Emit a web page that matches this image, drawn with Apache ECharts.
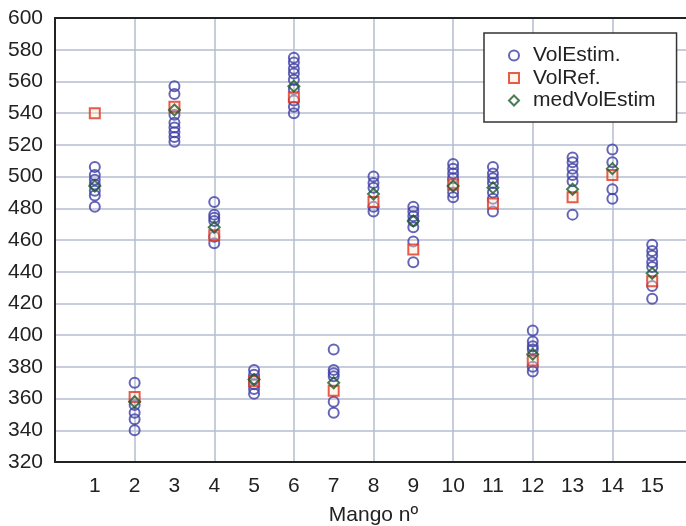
<!DOCTYPE html>
<html><head><meta charset="utf-8">
<script src="https://cdn.jsdelivr.net/npm/echarts@6/dist/echarts.min.js"></script>
<style>html,body{margin:0;padding:0;background:#fff}#c{width:686px;height:526px}</style>
</head><body><div id="c"></div>
<script>
var mangos = [1,2,3,4,5,6,7,8,9,10,11,12,13,14,15];
var yTicks = [320,340,360,380,400,420,440,460,480,500,520,540,560,580,600];
var volEstim = [
  [506, 501, 498, 495, 491, 488, 481],
  [370, 356, 351, 347, 340],
  [557, 552, 539, 534, 531, 528, 525, 522],
  [484, 476, 474, 472, 462, 458],
  [378, 375, 372, 369, 366, 363],
  [575, 572, 568, 565, 561, 555, 548, 544, 540],
  [391, 378, 376, 374, 358, 351],
  [500, 496, 493, 481, 478],
  [481, 478, 475, 472, 468, 459, 446],
  [508, 505, 502, 499, 490, 487],
  [506, 502, 499, 496, 490, 486, 478],
  [403, 396, 393, 391, 380, 377],
  [512, 509, 505, 501, 497, 476],
  [517, 509, 492, 486],
  [457, 453, 450, 446, 443, 431, 423]
];
var volRef = [540, 361, 544, 463, 371, 550, 365, 484, 454, 495, 483, 384, 487, 501, 434];
var medVolEstim = [494, 358, 542, 468, 372, 557, 370, 489, 472, 494, 493, 388, 492, 505, 439];

var estData = [];
volEstim.forEach(function(arr, i){ arr.forEach(function(v){ estData.push([mangos[i], v]); }); });
var refData = volRef.map(function(v, i){ return [mangos[i], v]; });
var medData = medVolEstim.map(function(v, i){ return [mangos[i], v]; });

var font = 'Liberation Sans, Arial, sans-serif';
var chart = echarts.init(document.getElementById('c'), null, {renderer: 'canvas'});
chart.setOption({
  animation: false,
  backgroundColor: '#fff',
  grid: {left: 55, top: 18, width: 637, height: 444, containLabel: false, outerBoundsMode: 'none'},
  legend: {
    orient: 'vertical', left: 484, top: 33,
    padding: [12, 21, 11, 24], itemGap: 1.5,
    itemWidth: 10, itemHeight: 10,
    backgroundColor: '#fff', borderColor: '#333', borderWidth: 1.5,
    textStyle: {fontFamily: font, fontSize: 21, color: '#222', lineHeight: 21, padding: [0,0,0,9]},
    data: ['VolEstim.', 'VolRef.', 'medVolEstim']
  },
  xAxis: [{
    type: 'value', min: 0, max: 16, interval: 1,
    name: 'Mango nº', nameLocation: 'middle', nameGap: 43,
    nameTextStyle: {fontFamily: font, fontSize: 21, color: '#222'},
    axisLine: {show: true, onZero: false, lineStyle: {color: '#222', width: 2}},
    axisTick: {show: false},
    axisLabel: {fontFamily: font, fontSize: 21, color: '#222', margin: 14,
      formatter: function(v){ return (v >= 1 && v <= 15) ? String(v) : ''; }},
    splitLine: {show: false}
  }, {
    type: 'value', min: 0, max: 16, interval: 2, position: 'top',
    axisLine: {show: true, onZero: false, lineStyle: {color: '#222', width: 2}},
    axisTick: {show: false}, axisLabel: {show: false},
    splitLine: {show: true, lineStyle: {color: '#b4bccf', width: 1.5}}
  }],
  yAxis: {
    type: 'value', min: 320, max: 600, interval: 20,
    axisLine: {show: true, onZero: false, lineStyle: {color: '#222', width: 2}},
    axisTick: {show: false},
    axisLabel: {fontFamily: font, fontSize: 21, color: '#222', margin: 12},
    splitLine: {show: true, lineStyle: {color: '#b4bccf', width: 1.5}}
  },
  series: [{
    name: 'VolEstim.', type: 'scatter', data: estData, symbol: 'circle', symbolSize: 10,
    itemStyle: {color: 'rgba(255,255,255,0)', borderColor: '#3f3fa6', borderWidth: 2}
  }, {
    name: 'VolRef.', type: 'scatter', data: refData, symbol: 'rect', symbolSize: 10,
    itemStyle: {color: 'rgba(255,230,200,0.5)', borderColor: '#e0341f', borderWidth: 2}
  }, {
    name: 'medVolEstim', type: 'scatter', data: medData, symbol: 'diamond', symbolSize: 11,
    itemStyle: {color: 'rgba(255,255,255,0)', borderColor: '#1d5a2a', borderWidth: 2}
  }]
});
</script></body></html>
